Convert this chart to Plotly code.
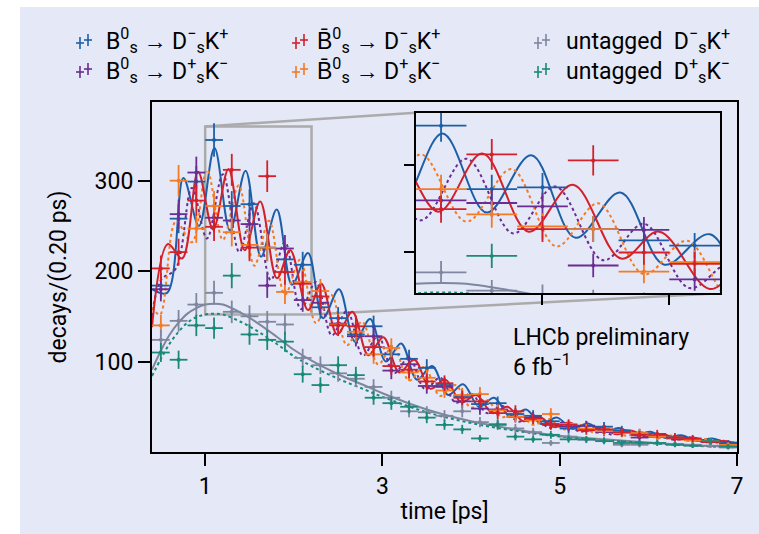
import numpy as np
import plotly.graph_objects as go

# ---------------- data ----------------
t_bins = [0.5, 0.7, 0.9, 1.1, 1.3, 1.5, 1.7, 1.9, 2.1, 2.3, 2.5, 2.7, 2.9, 3.1, 3.3, 3.5, 3.7,
          3.9, 4.1, 4.3, 4.5, 4.7, 4.9, 5.1, 5.3, 5.5, 5.7, 5.9, 6.1, 6.3, 6.5, 6.7, 6.9]

blue_pts = [184, 258, 299, 345, 272, 274, 226, 213, 207, 160, 148, 130, 139, 108, 103, 93, 74,
            62, 53, 54, 42, 40, 34, 26, 29, 28, 24, 21, 18, 17, 14, 12, 10]
red_pts = [203, 221, 278, 249, 312, 226, 305, 199, 186, 172, 140, 139, 116, 95, 91, 78, 76,
           60, 56, 43, 45, 37, 31, 30, 24, 25, 22, 19, 20, 16, 15, 11, 6]
purple_pts = [180, 263, 309, 259, 256, 252, 184, 225, 168, 165, 142, 128, 128, 90, 97, 73, 72,
              56, 48, 47, 39, 38, 30, 28, 29, 22, 21, 16, 17, 15, 13, 11, 9]
orange_pts = [140, 300, 247, 272, 243, 229, 226, 177, 188, 178, 141, 133, 108, 115, 88, 82, 68,
              63, 64, 46, 39, 35, 42, 31, 26, 23, 21, 21, 17, 16, 13, 12, 8]
gray_pts = [124, 145, 163, 176, 155, 150, 144, 141, 104, 96, 87, 81, 72, 60, 45, 44, 40,
            45, 33, 31, 26, 22, 10, 17, 13.5, 13, 8, 8, 10, 9, 8, 7, 5]
teal_pts = [110, 102, 140, 137, 195, 130, 124, 122, 86, 74, 96, 85, 60, 54, 50, 38, 30,
            25, 15, 30, 17, 14, 19, 14, 14, 12, 10, 10, 10, 8, 7, 12, 6]

# fit curves: values read at the extrema of the oscillations
blue_fit_t = [0.40, 0.57, 0.754, 0.93, 1.105, 1.28, 1.456, 1.63, 1.807, 1.98, 2.16, 2.33, 2.51,
              2.69, 2.86, 3.04, 3.21, 3.39, 3.56, 3.74, 3.91, 4.09, 4.26, 4.44, 4.62, 4.79, 4.97,
              5.14, 5.32, 5.49, 5.67, 5.85, 6.02, 6.20, 6.37, 6.55, 6.72, 6.90, 7.0]
blue_fit_y = [180, 176, 303, 250, 336, 245, 311, 216, 268, 185, 220, 148, 180, 122, 147, 100, 120,
              80, 95, 63, 75, 50, 60, 39, 47, 31, 38, 25.7, 31.5, 21.8, 26.5, 18.5, 22.5, 15.5,
              18.5, 12.5, 14.8, 9.8, 10.5]
red_fit_t = [0.40, 0.58, 0.74, 0.92, 1.09, 1.263, 1.446, 1.62, 1.81, 1.96, 2.16, 2.31, 2.49, 2.66,
             2.84, 3.01, 3.19, 3.36, 3.54, 3.71, 3.89, 4.06, 4.24, 4.41, 4.59, 4.76, 4.94, 5.11,
             5.29, 5.46, 5.64, 5.81, 5.99, 6.16, 6.34, 6.51, 6.69, 6.86, 7.0]
red_fit_y = [138, 230, 214, 310, 246, 313, 223, 277, 192, 223, 157, 186, 130, 155, 107, 127, 88,
             102, 70, 80, 55, 63, 43, 50, 34, 39.5, 27.5, 32.5, 23, 27.5, 19.6, 23.5, 16.7, 19.8,
             13.7, 16, 10.7, 12.3, 9.5]
purple_fit_t = [0.40, 0.50, 0.67, 0.85, 1.02, 1.20, 1.385, 1.55, 1.74, 1.90, 2.08, 2.25, 2.43,
                2.60, 2.78, 2.95, 3.13, 3.30, 3.48, 3.65, 3.83, 4.00, 4.18, 4.35, 4.53, 4.70,
                4.88, 5.05, 5.23, 5.40, 5.58, 5.75, 5.93, 6.10, 6.28, 6.45, 6.63, 6.80, 6.98]
purple_fit_y = [150, 190, 203, 292, 236, 307, 221, 275, 190, 232, 158, 188, 129, 156, 106.6, 128,
                87, 104.5, 69.6, 82, 54.4, 64.6, 43, 51, 33.6, 40, 27, 33, 22.5, 27.5, 19.4, 23.8,
                16.5, 20, 13.6, 16.3, 10.7, 12.5, 8]
orange_fit_t = [0.40, 0.49, 0.67, 0.85, 1.02, 1.20, 1.378, 1.555, 1.72, 1.90, 2.07, 2.25, 2.42,
                2.60, 2.77, 2.95, 3.12, 3.30, 3.47, 3.65, 3.82, 4.00, 4.17, 4.35, 4.52, 4.70,
                4.87, 5.05, 5.22, 5.40, 5.57, 5.75, 5.92, 6.10, 6.27, 6.45, 6.62, 6.80, 6.97]
orange_fit_y = [160, 152, 255, 232, 312, 234.5, 295, 206, 255.6, 174, 212.5, 142.5, 174, 118, 144,
                97, 117, 79, 94, 62, 74, 49, 58, 38.6, 45.3, 30.2, 36.5, 25, 30.3, 20.9, 26, 18,
                22, 15.3, 18.2, 12.4, 14.6, 9.5, 11]
untag_fit_t = [0.4, 0.5, 0.6, 0.7, 0.8, 0.9, 1.0, 1.1, 1.2, 1.4, 1.6, 1.8, 2.0, 2.2, 2.5, 2.8,
               3.0, 3.5, 4.0, 4.5, 5.0, 5.5, 6.0, 6.5, 7.0]
gray_fit_y = [91, 112, 130, 143, 153, 159, 163, 164, 163, 154, 142, 128, 113, 101, 86, 73.5,
              65, 47, 34, 25, 18, 14, 10.5, 7.5, 5.5]
teal_fit_y = [84, 103, 120, 133, 143, 149, 152, 153, 152, 144, 133, 120, 106, 95, 81, 69,
              61, 44, 32, 23.5, 17, 13, 9.8, 7, 5]

x_range = [0.4, 7.0]
y_range = [0, 387]
inset_x_range = [1.0, 2.2]
inset_y_range = [152, 360]
x_ticks = [1, 3, 5, 7]
y_ticks = [100, 200, 300]

# ---------------- styling ----------------
BG = "#e5e8f6"
FONT = "Roboto, Liberation Sans, sans-serif"
C_BLUE = "#1c5fa8"
C_RED = "#d3202a"
C_PURPLE = "#6a2d92"
C_ORANGE = "#f47a24"
C_GRAY = "#7e879f"
C_TEAL = "#1a8a78"

series = [
    ("blue", C_BLUE, blue_pts, blue_fit_t, blue_fit_y, "solid"),
    ("purple", C_PURPLE, purple_pts, purple_fit_t, purple_fit_y, "dot"),
    ("orange", C_ORANGE, orange_pts, orange_fit_t, orange_fit_y, "dot"),
    ("red", C_RED, red_pts, red_fit_t, red_fit_y, "solid"),
    ("gray", C_GRAY, gray_pts, untag_fit_t, gray_fit_y, "solid"),
    ("teal", C_TEAL, teal_pts, untag_fit_t, teal_fit_y, "dot"),
]

W, H = 759, 534
ML, MR, MT, MB = 152, 22, 102, 82
PW, PH = W - ML - MR, H - MT - MB


def px(xp):
    return (xp - ML) / PW


def py(yp):
    return (H - MB - yp) / PH


inset_dx = [px(415.7), px(720.0)]
inset_dy = [py(293.3), py(112.7)]

fig = go.Figure()

for xa, ya in [("x", "y"), ("x2", "y2")]:
    for name, col, pts, ft, fy, dash in series:
        fig.add_trace(go.Scatter(
            x=ft, y=fy, mode="lines", xaxis=xa, yaxis=ya, showlegend=False, hoverinfo="skip",
            line=dict(color=col, width=2, dash=dash, shape="spline", smoothing=1.0)))
    for name, col, pts, ft, fy, dash in series:
        fig.add_trace(go.Scatter(
            x=t_bins, y=pts, mode="markers", xaxis=xa, yaxis=ya, showlegend=False,
            marker=dict(color=col, size=4),
            error_x=dict(type="constant", value=0.1, thickness=1.8, width=0, color=col),
            error_y=dict(type="data", array=list(np.sqrt(np.array(pts, dtype=float))),
                         thickness=1.8, width=0, color=col)))


def main_from_paper(fx, fy):
    return (x_range[0] + fx * (x_range[1] - x_range[0]),
            y_range[0] + fy * (y_range[1] - y_range[0]))


shapes = []
# page: white strip on the left/top, lavender elsewhere
shapes.append(dict(type="rect", xref="paper", yref="paper", layer="below",
                   x0=px(20), x1=px(W + 5), y0=py(H + 5), y1=py(7),
                   fillcolor=BG, line=dict(width=0)))
# zoom rectangle + connectors
GREY_BOX = "#ababab"
shapes.append(dict(type="rect", xref="x", yref="y", layer="below",
                   x0=inset_x_range[0], x1=inset_x_range[1],
                   y0=inset_y_range[0], y1=inset_y_range[1],
                   line=dict(color=GREY_BOX, width=2.5)))
cx1, cy1 = main_from_paper(inset_dx[0], inset_dy[1])
shapes.append(dict(type="line", xref="x", yref="y", layer="below",
                   x0=inset_x_range[0], y0=inset_y_range[1], x1=cx1, y1=cy1,
                   line=dict(color=GREY_BOX, width=2.5)))
cx2, cy2 = main_from_paper(inset_dx[1], inset_dy[0])
shapes.append(dict(type="line", xref="x", yref="y", layer="below",
                   x0=inset_x_range[1], y0=inset_y_range[0], x1=cx2, y1=cy2,
                   line=dict(color=GREY_BOX, width=2.5)))

# legend
legend_items = [
    (C_BLUE, "B<sup>0</sup><sub>s</sub> \u2192 D<sup>\u2212</sup><sub>s</sub>K<sup>+</sup>", 84, 104, 41),
    (C_RED, "B\u0304<sup>0</sup><sub>s</sub> \u2192 D<sup>\u2212</sup><sub>s</sub>K<sup>+</sup>", 300, 315, 41),
    (C_GRAY, "untagged\u00a0\u00a0D<sup>\u2212</sup><sub>s</sub>K<sup>+</sup>", 542, 564, 41),
    (C_PURPLE, "B<sup>0</sup><sub>s</sub> \u2192 D<sup>+</sup><sub>s</sub>K<sup>\u2212</sup>", 84, 104, 70),
    (C_ORANGE, "B\u0304<sup>0</sup><sub>s</sub> \u2192 D<sup>+</sup><sub>s</sub>K<sup>\u2212</sup>", 300, 315, 70),
    (C_TEAL, "untagged\u00a0\u00a0D<sup>+</sup><sub>s</sub>K<sup>\u2212</sup>", 542, 564, 70),
]
annotations = []
for col, txt, icx, tx, ty in legend_items:
    for dxp, dyp in [(-4, 2), (4, -1)]:
        cxp, cyp = icx + dxp, ty + dyp
        shapes.append(dict(type="line", xref="paper", yref="paper", x0=px(cxp), x1=px(cxp),
                           y0=py(cyp - 6), y1=py(cyp + 6), line=dict(color=col, width=1.6)))
        shapes.append(dict(type="line", xref="paper", yref="paper", x0=px(cxp - 4), x1=px(cxp + 4),
                           y0=py(cyp), y1=py(cyp), line=dict(color=col, width=1.6)))
    annotations.append(dict(xref="paper", yref="paper", x=px(tx), y=py(ty), text=txt,
                            xanchor="left", yanchor="middle", showarrow=False,
                            font=dict(size=23, color="black", family=FONT)))

annotations.append(dict(xref="x", yref="y", x=4.45, y=127, text="LHCb preliminary",
                        xanchor="left", yanchor="middle", showarrow=False,
                        font=dict(size=23, color="black", family=FONT)))
annotations.append(dict(xref="x", yref="y", x=4.45, y=96, text="6 fb<sup>\u22121</sup>",
                        xanchor="left", yanchor="middle", showarrow=False,
                        font=dict(size=23, color="black", family=FONT)))

axis_common = dict(showline=True, linewidth=2, linecolor="black", mirror=True, showgrid=False,
                   zeroline=False, ticks="outside", tickwidth=2, tickcolor="black")

fig.update_layout(
    width=W, height=H,
    margin=dict(l=ML, r=MR, t=MT, b=MB, autoexpand=False),
    paper_bgcolor="white", plot_bgcolor=BG,
    font=dict(family=FONT, size=23, color="black"),
    showlegend=False,
    xaxis=dict(range=x_range, tickvals=x_ticks, ticklen=12, tickfont=dict(size=23),
               title=dict(text="time [ps]", font=dict(size=23), standoff=4), **axis_common),
    yaxis=dict(range=y_range, tickvals=y_ticks, ticklen=12, tickfont=dict(size=23),
               title=dict(text="decays/(0.20 ps)", font=dict(size=23), standoff=22), **axis_common),
    xaxis2=dict(domain=inset_dx, anchor="y2", range=inset_x_range, tickvals=[1.5, 2.0],
                ticklen=10, showticklabels=False, **axis_common),
    yaxis2=dict(domain=inset_dy, anchor="x2", range=inset_y_range, tickvals=[200, 300],
                ticklen=10, showticklabels=False, **axis_common),
    shapes=shapes,
    annotations=annotations,
)

fig.write_html("out.html")
